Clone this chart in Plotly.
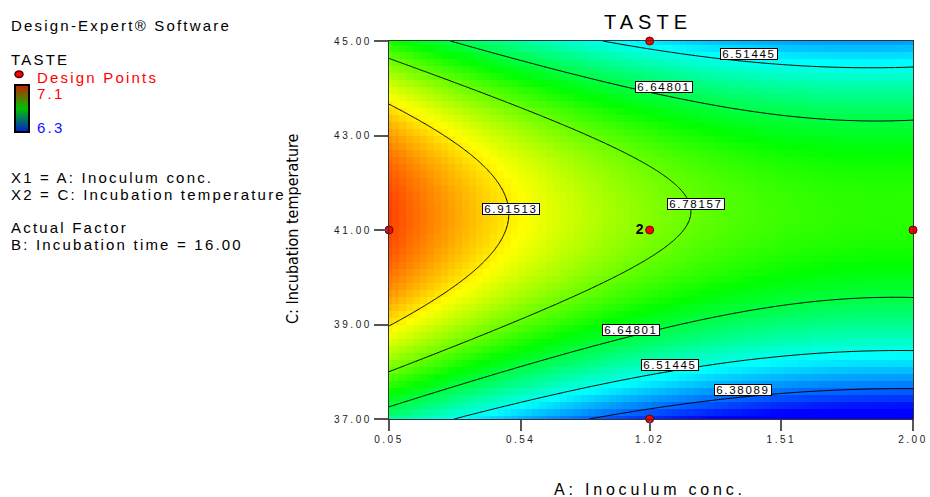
import numpy as np
import plotly.graph_objects as go

# ---------------- data ----------------
a_ticks = [0.05, 0.54, 1.02, 1.51, 2.00]          # A: Inoculum conc.
c_ticks = [37.0, 39.0, 41.0, 43.0, 45.0]          # C: Incubation temperature
a_range = [0.05, 2.00]
c_range = [37.0, 45.0]

# quadratic response-surface model for TASTE in coded units (B fixed at 16.00)
coef_terms = ["Intercept", "A", "C", "AC", "A^2", "C^2"]
coef_values = [6.800, -0.159, 0.0745, 0.0129, 0.088, -0.390]

contour_levels = [6.38089, 6.51445, 6.64801, 6.78157, 6.91513]
color_min, color_max = 6.3, 7.1

design_a = [0.05, 1.02, 1.02, 1.02, 2.00]
design_c = [41.0, 45.0, 41.0, 37.0, 41.0]
design_text = ["", "", "<b>2</b>", "", ""]

label_levels = [6.51445, 6.64801, 6.91513, 6.78157, 6.64801, 6.51445, 6.38089]

# ---------------- layout helpers ----------------
W, H = 930, 497
L, R, T, B = 389, 17, 41, 78
PW, PH = W - L - R, H - T - B


def px(x):
    return (x - L) / PW


def py(y):
    return (H - B - y) / PH


def ls(text, sp):
    return f'<span style="letter-spacing:{sp}px">{text}</span>'


FONT = "Liberation Sans, Arial, sans-serif"

# label positions (A, C) for the contour value boxes
label_a = [1.389, 1.073, 0.504, 1.191, 0.951, 1.095, 1.366]
label_c = [44.725, 44.016, 41.451, 41.55, 38.89, 38.15, 37.615]


def model(a, c):
    b0, b1, b2, b12, b11, b22 = coef_values
    x1 = (a - (a_range[0] + a_range[1]) / 2) / ((a_range[1] - a_range[0]) / 2)
    x2 = (c - (c_range[0] + c_range[1]) / 2) / ((c_range[1] - c_range[0]) / 2)
    return b0 + b1 * x1 + b2 * x2 + b12 * x1 * x2 + b11 * x1 ** 2 + b22 * x2 ** 2


# coarse (blocky) fill grid and fine grid for contour lines
ag = np.linspace(a_range[0], a_range[1], 76)
cg = np.linspace(c_range[0], c_range[1], 55)
AG, CG = np.meshgrid(ag, cg)
ZG = model(AG, CG)

af = np.linspace(a_range[0], a_range[1], 300)
cf = np.linspace(c_range[0], c_range[1], 300)
AF, CF = np.meshgrid(af, cf)
ZF = model(AF, CF)

rainbow = [[0.0, "rgb(0,0,255)"], [0.25, "rgb(0,255,255)"], [0.5, "rgb(0,255,0)"],
           [0.75, "rgb(255,255,0)"], [1.0, "rgb(255,0,0)"]]

fig = go.Figure()
fig.add_trace(go.Heatmap(x=ag, y=cg, z=ZG, colorscale=rainbow, zmin=color_min, zmax=color_max,
                         zsmooth=False, showscale=False, hoverinfo="skip"))
fig.add_trace(go.Contour(x=af, y=cf, z=ZF,
                         contours=dict(coloring="none", start=contour_levels[0], end=contour_levels[-1],
                                       size=contour_levels[1] - contour_levels[0], showlabels=False),
                         line=dict(color="black", width=1), showscale=False, hoverinfo="skip"))
fig.add_trace(go.Scatter(x=design_a, y=design_c, mode="markers+text", text=design_text,
                         textposition="middle left",
                         textfont=dict(size=14, color="black", family=FONT),
                         marker=dict(size=8, color="red", line=dict(color="#700000", width=1)),
                         cliponaxis=False, showlegend=False, hoverinfo="skip"))
# legend colour bar (small key at upper left)
fig.add_trace(go.Scatter(x=[design_a[0]], y=[design_c[0]], mode="markers",
                         marker=dict(size=1, opacity=0, color=[color_min], cmin=color_min, cmax=color_max,
                                     colorscale=[[0, "#0020d0"], [0.5, "#00c000"], [1, "#c82000"]],
                                     showscale=True,
                                     colorbar=dict(x=px(15), xanchor="left", y=py(108), yanchor="middle",
                                                   thickness=14, thicknessmode="pixels",
                                                   len=47, lenmode="pixels", outlinewidth=2,
                                                   outlinecolor="black", showticklabels=False, ticks="",
                                                   xpad=0, ypad=0)),
                         showlegend=False, hoverinfo="skip"))

annotations = []
# title
annotations.append(dict(text=ls("TASTE", 5), x=px(648), y=py(22), xref="paper", yref="paper",
                        showarrow=False, xanchor="center", yanchor="middle",
                        font=dict(size=20, color="black", family=FONT)))
# left information block
left_texts = [("Design-Expert® Software", 25, 9, "black"),
              ("TASTE", 59, 9, "black"),
              ("Design Points", 76, 35, "red"),
              ("7.1", 92, 35, "red"),
              ("6.3", 126, 35, "#1010ff"),
              ("X1 = A: Inoculum conc.", 176, 9, "black"),
              ("X2 = C: Incubation temperature", 193, 9, "black"),
              ("Actual Factor", 226.5, 9, "black"),
              ("B: Incubation time = 16.00", 243.5, 9, "black")]
for txt, yy, xx, col in left_texts:
    annotations.append(dict(text=ls(txt, 2.2), x=px(xx), y=py(yy + 1), xref="paper", yref="paper",
                            showarrow=False, xanchor="left", yanchor="middle",
                            font=dict(size=15, color=col, family=FONT)))
# axis titles
annotations.append(dict(text="C: Incubation temperature", x=px(292), y=py(229), xref="paper", yref="paper",
                        showarrow=False, xanchor="center", yanchor="middle", textangle=-90,
                        font=dict(size=16, color="black",
                                  family="Liberation Sans Narrow, Arial Narrow, DejaVu Sans Condensed, Liberation Sans, sans-serif")))
annotations.append(dict(text=ls("A: Inoculum conc.", 3.8), x=px(650), y=py(489), xref="paper", yref="paper",
                        showarrow=False, xanchor="center", yanchor="middle",
                        font=dict(size=16, color="black", family=FONT)))
# contour value labels
for lvl, la, lc in zip(label_levels, label_a, label_c):
    annotations.append(dict(text=ls(f"{lvl:.5f}", 1.7), x=la, y=lc, xref="x", yref="y",
                            showarrow=False, xanchor="center", yanchor="middle",
                            bgcolor="white", bordercolor="black", borderwidth=1, borderpad=0,
                            width=56, height=10,
                            font=dict(size=11.5, color="black", family=FONT)))

shapes = [dict(type="circle", xref="paper", yref="paper", x0=px(15), x1=px(23), y0=py(77.5), y1=py(71),
               fillcolor="red", line=dict(color="#500000", width=1.5))]

fig.update_layout(
    width=W, height=H,
    margin=dict(l=L, r=R, t=T, b=B, autoexpand=False),
    paper_bgcolor="white", plot_bgcolor="white",
    showlegend=False,
    annotations=annotations,
    shapes=shapes,
    xaxis=dict(range=a_range, tickvals=a_ticks, ticktext=[ls(f"{v:.2f}", 2.5) for v in a_ticks],
               ticks="outside", ticklen=11, tickcolor="#555", tickwidth=1.5,
               showline=True, mirror=True, linecolor="#333", linewidth=1,
               showgrid=False, zeroline=False,
               tickfont=dict(size=10, color="#222", family=FONT)),
    yaxis=dict(range=c_range, tickvals=c_ticks, ticktext=[ls(f"{v:.2f}", 2.6) for v in c_ticks],
               ticks="outside", ticklen=14, tickcolor="#555", tickwidth=1.5,
               showline=True, mirror=True, linecolor="#333", linewidth=1,
               showgrid=False, zeroline=False,
               tickfont=dict(size=10, color="#222", family=FONT)),
)

fig.write_html("out.html", config={"displayModeBar": False},
               post_script="document.body.style.margin='0';document.body.style.overflow='hidden';")
